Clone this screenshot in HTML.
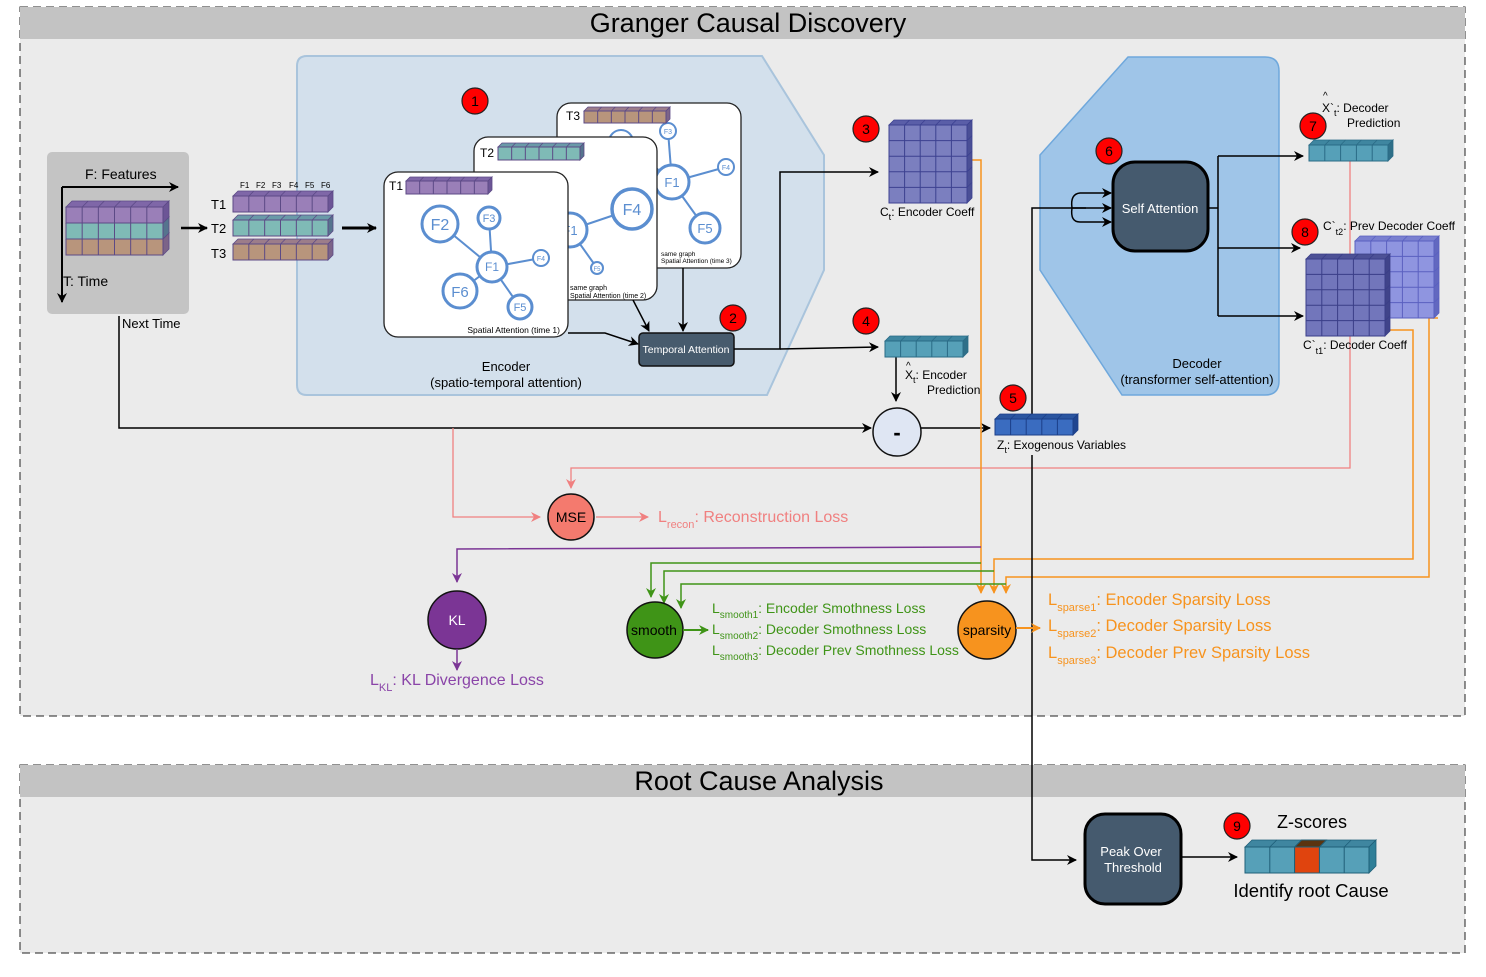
<!DOCTYPE html>
<html><head><meta charset="utf-8"><style>
html,body{margin:0;padding:0;background:#fff;}
svg{display:block;font-family:"Liberation Sans",Arial,sans-serif;}
</style></head><body>
<svg id="s" width="1486" height="977" viewBox="0 0 1486 977" xmlns="http://www.w3.org/2000/svg">
<defs>
<marker id="ab" markerWidth="10" markerHeight="10" refX="9" refY="5" orient="auto" markerUnits="userSpaceOnUse"><path d="M0,0 L10,5 L0,10 L3,5 z" fill="#000"/></marker>
<marker id="ao" markerWidth="10" markerHeight="10" refX="9" refY="5" orient="auto" markerUnits="userSpaceOnUse"><path d="M0,0 L10,5 L0,10 L3,5 z" fill="#f7931e"/></marker>
<marker id="ag" markerWidth="10" markerHeight="10" refX="9" refY="5" orient="auto" markerUnits="userSpaceOnUse"><path d="M0,0 L10,5 L0,10 L3,5 z" fill="#3f9417"/></marker>
<marker id="ap" markerWidth="10" markerHeight="10" refX="9" refY="5" orient="auto" markerUnits="userSpaceOnUse"><path d="M0,0 L10,5 L0,10 L3,5 z" fill="#7b3595"/></marker>
<marker id="ar" markerWidth="10" markerHeight="10" refX="9" refY="5" orient="auto" markerUnits="userSpaceOnUse"><path d="M0,0 L10,5 L0,10 L3,5 z" fill="#f08080"/></marker>
</defs>
<rect width="1486" height="977" fill="#fff"/>
<rect x="20" y="7" width="1445" height="709" fill="#ebebeb" stroke="#222" stroke-dasharray="8,5"/>
<rect x="20" y="7" width="1445" height="32" fill="#c3c3c3"/>
<text x="748" y="32" font-size="27" text-anchor="middle">Granger Causal Discovery</text>
<rect x="20" y="765" width="1445" height="188" fill="#ebebeb" stroke="#222" stroke-dasharray="8,5"/>
<rect x="20" y="765" width="1445" height="32" fill="#c3c3c3"/>
<text x="759" y="790" font-size="27" text-anchor="middle">Root Cause Analysis</text>

<path d="M307,56 L762,56 L824,155 L824,270 L767,395 L307,395 Q297,395 297,385 L297,66 Q297,56 307,56 z" fill="#d3e0ec" stroke="#a9c4dc" stroke-width="2"/>
<text x="506" y="371" font-size="13" text-anchor="middle">Encoder</text>
<text x="506" y="387" font-size="13" text-anchor="middle">(spatio-temporal attention)</text>
<path d="M1128,57 L1265,57 Q1279,57 1279,71 L1279,381 Q1279,395 1265,395 L1122,395 L1040,270 L1040,155 z" fill="#9fc5e8" stroke="#6fa8dc" stroke-width="1.5"/>
<text x="1197" y="368" font-size="13" text-anchor="middle">Decoder</text>
<text x="1197" y="384" font-size="13" text-anchor="middle">(transformer self-attention)</text>

<rect x="47" y="152" width="142" height="162" rx="5" fill="#c4c4c4"/>
<text x="85" y="179" font-size="14">F: Features</text>
<line x1="62" y1="187" x2="178" y2="187" stroke="#000" stroke-width="2" marker-end="url(#ab)"/>
<line x1="62" y1="187" x2="62" y2="302" stroke="#000" stroke-width="2" marker-end="url(#ab)"/>
<text x="63" y="286" font-size="14">T: Time</text>
<text x="122" y="328" font-size="13">Next Time</text>
<g id="cubes"></g>

<line x1="181" y1="228" x2="207" y2="228" stroke="#000" stroke-width="2.5" marker-end="url(#ab)"/>
<text x="211" y="209" font-size="13">T1</text>
<text x="211" y="233" font-size="13">T2</text>
<text x="211" y="258" font-size="13">T3</text>
<g font-size="8">
<text x="240" y="188">F1</text><text x="256" y="188">F2</text><text x="272" y="188">F3</text><text x="289" y="188">F4</text><text x="305" y="188">F5</text><text x="321" y="188">F6</text>
</g>
<line x1="342" y1="228" x2="376" y2="228" stroke="#000" stroke-width="3" marker-end="url(#ab)"/>

<g id="cardT3">
<rect x="557" y="103" width="184" height="165" rx="14" fill="#fff" stroke="#222" stroke-width="1.3"/>
<text x="566" y="120" font-size="12">T3</text>
<g stroke="#5b8ed0" stroke-width="2" fill="#fff">
<line x1="668" y1="131" x2="672" y2="182"/><line x1="672" y1="182" x2="726" y2="167"/><line x1="672" y1="182" x2="705" y2="228"/><line x1="672" y1="182" x2="621" y2="137"/>
<circle cx="621" cy="142" r="12"/>
<circle cx="668" cy="131" r="8"/><circle cx="672" cy="182" r="17" stroke-width="3"/><circle cx="726" cy="167" r="8"/><circle cx="705" cy="228" r="15" stroke-width="3"/>
</g>
<g fill="#5b8ed0" text-anchor="middle"><text x="668" y="134" font-size="7">F3</text><text x="672" y="187" font-size="13">F1</text><text x="726" y="170" font-size="7">F4</text><text x="705" y="233" font-size="13">F5</text></g>
<text x="661" y="256" font-size="6.5">same graph</text><text x="661" y="263" font-size="6.5">Spatial Attention (time 3)</text>
</g>
<g>
<rect x="474" y="137" width="183" height="163" rx="14" fill="#fff" stroke="#222" stroke-width="1.3"/>
<text x="480" y="157" font-size="12">T2</text>
<g stroke="#5b8ed0" stroke-width="2" fill="#fff">
<line x1="570" y1="230" x2="632" y2="209"/><line x1="570" y1="230" x2="597" y2="268"/>
<circle cx="570" cy="230" r="17" stroke-width="3"/><circle cx="632" cy="209" r="20" stroke-width="3.5"/><circle cx="597" cy="268" r="6"/>
</g>
<g fill="#5b8ed0" text-anchor="middle"><text x="570" y="235" font-size="13">F1</text><text x="632" y="215" font-size="16">F4</text><text x="597" y="271" font-size="6">F5</text></g>
<text x="570" y="290" font-size="7">same graph</text><text x="570" y="298" font-size="7">Spatial Attention (time 2)</text>
</g>
<g>
<rect x="384" y="172" width="184" height="165" rx="14" fill="#fff" stroke="#222" stroke-width="1.3"/>
<text x="389" y="190" font-size="12">T1</text>
<g stroke="#5b8ed0" stroke-width="2" fill="#fff">
<line x1="492" y1="267" x2="440" y2="224"/><line x1="492" y1="267" x2="489" y2="218"/><line x1="492" y1="267" x2="541" y2="258"/><line x1="492" y1="267" x2="460" y2="291"/><line x1="492" y1="267" x2="520" y2="307"/>
<circle cx="440" cy="224" r="18" stroke-width="3"/><circle cx="489" cy="218" r="11" stroke-width="3"/><circle cx="492" cy="267" r="15" stroke-width="3"/><circle cx="541" cy="258" r="8"/><circle cx="460" cy="291" r="17" stroke-width="3"/><circle cx="520" cy="307" r="12" stroke-width="3"/>
</g>
<g fill="#5b8ed0" text-anchor="middle"><text x="440" y="230" font-size="16">F2</text><text x="489" y="222" font-size="11">F3</text><text x="492" y="271" font-size="12">F1</text><text x="541" y="261" font-size="7">F4</text><text x="460" y="297" font-size="15">F6</text><text x="520" y="311" font-size="11">F5</text></g>
<text x="560" y="333" font-size="8.5" text-anchor="end">Spatial Attention (time 1)</text>
</g>

<polyline points="568,333 605,333 638,344" fill="none" stroke="#000" stroke-width="1.5" marker-end="url(#ab)"/>
<line x1="633" y1="300" x2="649" y2="331" stroke="#000" stroke-width="1.5" marker-end="url(#ab)"/>
<line x1="683" y1="268" x2="683" y2="331" stroke="#000" stroke-width="1.5" marker-end="url(#ab)"/>
<rect x="639" y="333" width="95" height="33" rx="4" fill="#475b6d" stroke="#111" stroke-width="1.5"/>
<text x="686" y="353" font-size="10.5" fill="#fff" text-anchor="middle">Temporal Attention</text>
<polyline points="734,349 780,349 780,172 878,172" fill="none" stroke="#000" stroke-width="1.5" marker-end="url(#ab)"/>
<line x1="780" y1="349" x2="878" y2="347" stroke="#000" stroke-width="1.5" marker-end="url(#ab)"/>

<polyline points="119,316 119,428 871,428" fill="none" stroke="#000" stroke-width="1.5" marker-end="url(#ab)"/>
<line x1="896" y1="357" x2="896" y2="401" stroke="#000" stroke-width="1.5" marker-end="url(#ab)"/>
<circle cx="897" cy="432" r="24" fill="#dfe6f3" stroke="#111" stroke-width="1.5"/>
<text x="897" y="440" font-size="22" font-weight="bold" text-anchor="middle">-</text>
<line x1="921" y1="428" x2="990" y2="428" stroke="#000" stroke-width="1.5" marker-end="url(#ab)"/>

<polyline points="1350,161 1350,468 571,468 571,488" fill="none" stroke="#f08080" stroke-width="1.3" marker-end="url(#ar)"/>
<polyline points="453,428 453,517 540,517" fill="none" stroke="#f08080" stroke-width="1.3" marker-end="url(#ar)"/>
<circle cx="571" cy="517" r="23" fill="#f47a6e" stroke="#111" stroke-width="1.5"/>
<text x="571" y="522" font-size="14" text-anchor="middle">MSE</text>
<line x1="596" y1="517" x2="648" y2="517" stroke="#f08080" stroke-width="1.3" marker-end="url(#ar)"/>
<text x="658" y="522" font-size="16" fill="#f08080">L<tspan font-size="11" dy="6">recon</tspan><tspan dy="-6">: Reconstruction Loss</tspan></text>

<polyline points="970,160 981,160 981,593" fill="none" stroke="#f7931e" stroke-width="1.5" marker-end="url(#ao)"/>
<polyline points="1390,330 1413,330 1413,559 994,559 994,593" fill="none" stroke="#f7931e" stroke-width="1.5" marker-end="url(#ao)"/>
<polyline points="1438,318 1429,318 1429,577 1006,577 1006,593" fill="none" stroke="#f7931e" stroke-width="1.5" marker-end="url(#ao)"/>
<polyline points="981,547 457,549 457,582" fill="none" stroke="#7b3595" stroke-width="1.5" marker-end="url(#ap)"/>
<polyline points="981,563 651,563 651,597" fill="none" stroke="#3f9417" stroke-width="1.5" marker-end="url(#ag)"/>
<polyline points="994,571 664,571 664,603" fill="none" stroke="#3f9417" stroke-width="1.5" marker-end="url(#ag)"/>
<polyline points="1006,584 681,584 681,608" fill="none" stroke="#3f9417" stroke-width="1.5" marker-end="url(#ag)"/>

<polyline points="1032,455 1032,860 1076,860" fill="none" stroke="#000" stroke-width="1.5" marker-end="url(#ab)"/>
<polyline points="1032,418 1032,208 1111,208" fill="none" stroke="#000" stroke-width="1.5" marker-end="url(#ab)"/>
<path d="M1086,208 L1072,208 Q1070,194 1080,193 L1111,193" fill="none" stroke="#000" stroke-width="1.5" marker-end="url(#ab)"/>
<path d="M1072,208 Q1070,222 1080,222 L1111,222" fill="none" stroke="#000" stroke-width="1.5" marker-end="url(#ab)"/>
<rect x="1113" y="162" width="95" height="89" rx="22" fill="#455a6e" stroke="#000" stroke-width="3"/>
<text x="1160" y="213" font-size="13" fill="#fff" text-anchor="middle">Self Attention</text>
<polyline points="1208,208 1218,208" fill="none" stroke="#000" stroke-width="1.5"/>
<line x1="1218" y1="156" x2="1218" y2="316" stroke="#000" stroke-width="1.5"/>
<line x1="1218" y1="156" x2="1303" y2="156" stroke="#000" stroke-width="1.5" marker-end="url(#ab)"/>
<line x1="1218" y1="248" x2="1300" y2="248" stroke="#000" stroke-width="1.5" marker-end="url(#ab)"/>
<line x1="1218" y1="316" x2="1303" y2="316" stroke="#000" stroke-width="1.5" marker-end="url(#ab)"/>

<g id="cubes2"></g>

<text x="880" y="216" font-size="12">C<tspan font-size="9" dy="4">t</tspan><tspan dy="-4">: Encoder Coeff</tspan></text>
<text x="906" y="369" font-size="10">^</text>
<text x="905" y="379" font-size="12">X<tspan font-size="9" dy="4">t</tspan><tspan dy="-4">: Encoder</tspan></text>
<text x="927" y="394" font-size="12">Prediction</text>
<text x="997" y="449" font-size="12">Z<tspan font-size="9" dy="4">t</tspan><tspan dy="-4">: Exogenous Variables</tspan></text>
<text x="1323" y="99" font-size="10">^</text>
<text x="1322" y="112" font-size="12">X`<tspan font-size="9" dy="4">t</tspan><tspan dy="-4">: Decoder</tspan></text>
<text x="1347" y="127" font-size="12">Prediction</text>
<text x="1323" y="230" font-size="12">C`<tspan font-size="9" dy="5">t2</tspan><tspan dy="-5">: Prev Decoder Coeff</tspan></text>
<text x="1303" y="349" font-size="12">C`<tspan font-size="9" dy="5">t1</tspan><tspan dy="-5">: Decoder Coeff</tspan></text>

<circle cx="457" cy="620" r="29" fill="#7b3595" stroke="#111" stroke-width="1.5"/>
<text x="457" y="625" font-size="14" fill="#fff" text-anchor="middle">KL</text>
<line x1="457" y1="649" x2="457" y2="670" stroke="#7b3595" stroke-width="1.5" marker-end="url(#ap)"/>
<text x="370" y="685" font-size="16" fill="#8a44a8">L<tspan font-size="11" dy="6">KL</tspan><tspan dy="-6">: KL Divergence Loss</tspan></text>
<circle cx="655" cy="630" r="28" fill="#3f9417" stroke="#111" stroke-width="1.5"/>
<text x="654" y="635" font-size="14" text-anchor="middle">smooth</text>
<line x1="683" y1="630" x2="708" y2="630" stroke="#3f9417" stroke-width="2" marker-end="url(#ag)"/>
<g font-size="14" fill="#3f9417">
<text x="712" y="613">L<tspan font-size="10" dy="5">smooth1</tspan><tspan dy="-5">: Encoder Smothness Loss</tspan></text>
<text x="712" y="634">L<tspan font-size="10" dy="5">smooth2</tspan><tspan dy="-5">: Decoder Smothness Loss</tspan></text>
<text x="712" y="655">L<tspan font-size="10" dy="5">smooth3</tspan><tspan dy="-5">: Decoder Prev Smothness Loss</tspan></text>
</g>
<circle cx="987" cy="630" r="29" fill="#f7931e" stroke="#111" stroke-width="1.5"/>
<text x="987" y="635" font-size="14" text-anchor="middle">sparsity</text>
<line x1="1016" y1="628" x2="1040" y2="628" stroke="#f7931e" stroke-width="2" marker-end="url(#ao)"/>
<g font-size="16.5" fill="#f7931e">
<text x="1048" y="605">L<tspan font-size="11" dy="6">sparse1</tspan><tspan dy="-6">: Encoder Sparsity Loss</tspan></text>
<text x="1048" y="631">L<tspan font-size="11" dy="6">sparse2</tspan><tspan dy="-6">: Decoder Sparsity Loss</tspan></text>
<text x="1048" y="658">L<tspan font-size="11" dy="6">sparse3</tspan><tspan dy="-6">: Decoder Prev Sparsity Loss</tspan></text>
</g>

<rect x="1085" y="814" width="96" height="90" rx="20" fill="#455a6e" stroke="#000" stroke-width="3"/>
<text x="1131" y="856" font-size="13" fill="#fff" text-anchor="middle">Peak Over</text>
<text x="1133" y="872" font-size="13" fill="#fff" text-anchor="middle">Threshold</text>
<line x1="1181" y1="857" x2="1237" y2="857" stroke="#000" stroke-width="1.5" marker-end="url(#ab)"/>
<text x="1312" y="828" font-size="18" text-anchor="middle">Z-scores</text>
<text x="1311" y="897" font-size="18.5" text-anchor="middle">Identify root Cause</text>

<g id="badges"></g>
</svg>
<script>
var NS="http://www.w3.org/2000/svg";
function el(p,t,a){var e=document.createElementNS(NS,t);for(var k in a)e.setAttribute(k,a[k]);p.appendChild(e);return e;}
function cube(g,x,y,w,h,cols,rows,fill,top,side,stroke,d){
  el(g,"polygon",{points:[x,y,x+d,y-d,x+w+d,y-d,x+w,y].join(" "),fill:top,stroke:stroke,"stroke-width":0.8});
  el(g,"polygon",{points:[x+w,y,x+w+d,y-d,x+w+d,y+h-d,x+w,y+h].join(" "),fill:side,stroke:stroke,"stroke-width":0.8});
  el(g,"rect",{x:x,y:y,width:w,height:h,fill:fill,stroke:stroke,"stroke-width":1});
  for(var i=1;i<cols;i++){var xx=x+w*i/cols;el(g,"line",{x1:xx,y1:y,x2:xx,y2:y+h,stroke:stroke,"stroke-width":1});el(g,"line",{x1:xx,y1:y,x2:xx+d,y2:y-d,stroke:stroke,"stroke-width":0.8});}
  for(var j=1;j<rows;j++){var yy=y+h*j/rows;el(g,"line",{x1:x,y1:yy,x2:x+w,y2:yy,stroke:stroke,"stroke-width":1});el(g,"line",{x1:x+w,y1:yy,x2:x+w+d,y2:yy-d,stroke:stroke,"stroke-width":0.8});}
}
var P=["#9a7fb8","#7f67a8","#6c5596"],T=["#7fbab6","#6a9aa8","#56748e"],B=["#b8957c","#9c7d8a","#7c6488"];
var g=document.getElementById("cubes");
cube(g,66,239,97,16,6,1,B[0],B[1],B[2],"#5c4a86",6);
cube(g,66,223,97,16,6,1,T[0],T[1],T[2],"#5c4a86",6);
cube(g,66,207,97,16,6,1,P[0],P[1],P[2],"#5c4a86",6);
cube(g,233,196,95,16,6,1,P[0],P[1],P[2],"#5c4a86",5);
cube(g,233,220,95,16,6,1,T[0],T[1],T[2],"#5c4a86",5);
cube(g,233,244,95,16,6,1,B[0],B[1],B[2],"#5c4a86",5);
var g2=document.getElementById("cubes2");
var s=document.getElementById("s");
var ct3=document.getElementById("cardT3");
(function(){var gg=el(ct3,"g",{});cube(gg,584,111,82,12,6,1,B[0],B[1],B[2],"#5c4a86",4);})();
var t2=ct3.nextElementSibling, t1=t2.nextElementSibling;
(function(){var gg=el(t2,"g",{});cube(gg,498,147,82,13,6,1,T[0],T[1],T[2],"#5c4a86",4);})();
(function(){var gg=el(t1,"g",{});cube(gg,406,181,82,13,6,1,P[0],P[1],P[2],"#5c4a86",4);})();
cube(g2,889,125,78,78,5,5,"#7b7fbf","#5a5ea8","#4a4f96","#3c4190",5);
cube(g2,885,341,78,16,5,1,"#56a0b8","#3f86a0","#2f6f88","#2a6b86",5);
cube(g2,995,419,78,16,5,1,"#3a6cc0","#2a55a0","#1f4590","#1c3f88",5);
cube(g2,1309,145,79,16,5,1,"#56a0b8","#3f86a0","#2f6f88","#2a6b86",5);
cube(g2,1355,241,79,77,5,5,"#8f95e0","#7a80d0","#6268c0","#5a60c0",5);
cube(g2,1306,259,79,77,5,5,"#7276bb","#4d5196","#40448a","#3a3e88",5);
var zg=el(s,"g",{});
cube(zg,1245,847,124,26,5,1,"#56a0b8","#3f86a0","#2f7f98","#1f5f78",7);
el(zg,"rect",{x:1245+124*2/5,y:847,width:124/5,height:26,fill:"#e0440e",stroke:"#1f5f78"});
el(zg,"polygon",{points:[1245+124*2/5,847,1245+124*2/5+7,840,1245+124*3/5+7,840,1245+124*3/5,847].join(" "),fill:"#5a3410",stroke:"#1f5f78"});
var bg=document.getElementById("badges");
[[475,101,1],[733,318,2],[866,129,3],[866,321,4],[1013,398,5],[1109,151,6],[1313,126,7],[1305,232,8],[1237,826,9]].forEach(function(b){
 el(bg,"circle",{cx:b[0],cy:b[1],r:13,fill:"#ff0000",stroke:"#222","stroke-width":1.2});
 var t=el(bg,"text",{x:b[0],y:b[1]+5,"font-size":14,"text-anchor":"middle"});t.textContent=b[2];
});
</script>
</body></html>
